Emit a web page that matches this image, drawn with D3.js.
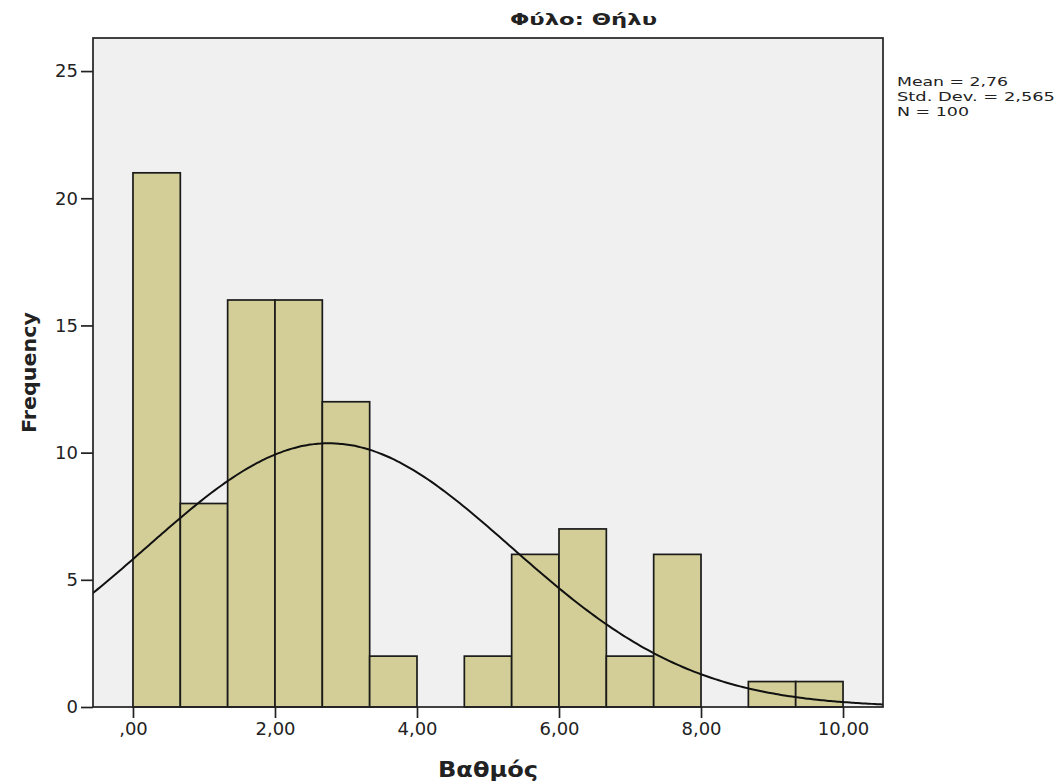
<!DOCTYPE html>
<html>
<head>
<meta charset="utf-8">
<script src="https://cdnjs.cloudflare.com/ajax/libs/d3/7.8.5/d3.min.js"></script>
<style>
  body { margin: 0; background: #fff; }
  text { font-family: "DejaVu Sans", sans-serif; fill: #222; }
</style>
</head>
<body>
<script>
var w = 1059;
var h = 784;

// histogram bins (lower edges) and counts
var binStarts = [0, 0.6667, 1.3333, 2, 2.6667, 3.3333, 4, 4.6667, 5.3333, 6, 6.6667, 7.3333, 8, 8.6667, 9.3333];
var binWidth = 0.6667;
var counts = [21, 8, 16, 16, 12, 2, 0, 2, 6, 7, 2, 6, 0, 1, 1];
var xTicks = [0, 2, 4, 6, 8, 10];
var xTickLabels = [",00", "2,00", "4,00", "6,00", "8,00", "10,00"];
var yTicks = [0, 5, 10, 15, 20, 25];
var statLines = ["Mean = 2,76", "Std. Dev. = 2,565", "N = 100"];
var statWidths = [111, 158, 72];
var mean = 2.76, sd = 2.565, n = 100;

var pLeft = 93, pRight = 883, pTop = 38, pBottom = 707;

var svg = d3.select("body").append("svg")
  .attr("width", w)
  .attr("height", h);

var x = d3.scaleLinear().domain([-0.563, 10.563]).range([pLeft, pRight]);
var y = d3.scaleLinear().domain([0, 26.3]).range([pBottom, pTop]);

svg.append("rect")
  .attr("x", pLeft).attr("y", pTop)
  .attr("width", pRight - pLeft).attr("height", pBottom - pTop)
  .attr("fill", "#f0f0f0");

svg.append("clipPath").attr("id", "plot")
  .append("rect")
  .attr("x", pLeft).attr("y", pTop)
  .attr("width", pRight - pLeft).attr("height", pBottom - pTop);

var bars = counts.map(function(c, i) { return {x0: binStarts[i], c: c}; })
  .filter(function(d) { return d.c > 0; });

svg.selectAll("rect.bar")
  .data(bars)
  .enter()
  .append("rect")
  .attr("class", "bar")
  .attr("x", function(d) { return x(d.x0); })
  .attr("y", function(d) { return y(d.c); })
  .attr("width", function(d) { return x(d.x0 + binWidth) - x(d.x0); })
  .attr("height", function(d) { return y(0) - y(d.c); })
  .attr("fill", "#d3ce97")
  .attr("stroke", "#1a1a1a")
  .attr("stroke-width", 1.7);

// fitted normal curve
var pts = d3.range(-0.6, 10.65, 0.05).map(function(v) {
  var z = (v - mean) / sd;
  return [v, n * binWidth * Math.exp(-0.5 * z * z) / (sd * Math.sqrt(2 * Math.PI))];
});
svg.append("path")
  .datum(pts)
  .attr("clip-path", "url(#plot)")
  .attr("fill", "none")
  .attr("stroke", "#111")
  .attr("stroke-width", 2)
  .attr("d", d3.line()
    .x(function(d) { return x(d[0]); })
    .y(function(d) { return y(d[1]); })
    .curve(d3.curveBasis));

// frame
svg.append("rect")
  .attr("x", pLeft).attr("y", pTop)
  .attr("width", pRight - pLeft).attr("height", pBottom - pTop)
  .attr("fill", "none")
  .attr("stroke", "#222")
  .attr("stroke-width", 1.7);

var xAxis = d3.axisBottom(x)
  .tickValues(xTicks)
  .tickSize(11)
  .tickPadding(4)
  .tickFormat(function(d, i) { return xTickLabels[i]; });
var gx = svg.append("g")
  .attr("transform", "translate(0," + pBottom + ")")
  .call(xAxis);
gx.select(".domain").remove();
gx.selectAll("line").attr("stroke", "#222").attr("stroke-width", 1.7);
gx.selectAll("text").attr("font-size", 18).attr("fill", "#222")
  .style("font-family", "DejaVu Sans");

var yAxis = d3.axisLeft(y)
  .tickValues(yTicks)
  .tickSize(12)
  .tickPadding(3);
var gy = svg.append("g")
  .attr("transform", "translate(" + pLeft + ",0)")
  .call(yAxis);
gy.select(".domain").remove();
gy.selectAll("line").attr("stroke", "#222").attr("stroke-width", 1.7);
gy.selectAll("text").attr("font-size", 18).attr("fill", "#222")
  .style("font-family", "DejaVu Sans");

// title and axis titles
svg.append("text")
  .attr("x", 510).attr("y", 25)
  .attr("font-size", 16.5).attr("font-weight", "bold")
  .attr("textLength", 147).attr("lengthAdjust", "spacingAndGlyphs")
  .text("Φύλο: Θήλυ");

svg.append("text")
  .attr("transform", "translate(36,433) rotate(-90)")
  .attr("font-size", 20).attr("font-weight", "bold")
  .attr("textLength", 121).attr("lengthAdjust", "spacingAndGlyphs")
  .text("Frequency");

svg.append("text")
  .attr("x", 438).attr("y", 777)
  .attr("font-size", 20.5).attr("font-weight", "bold")
  .attr("textLength", 100).attr("lengthAdjust", "spacingAndGlyphs")
  .text("Βαθμός");

svg.selectAll("text.stat")
  .data(statLines)
  .enter()
  .append("text")
  .attr("class", "stat")
  .attr("x", 897)
  .attr("y", function(d, i) { return 86 + i * 15; })
  .attr("font-size", 13)
  .attr("textLength", function(d, i) { return statWidths[i]; })
  .attr("lengthAdjust", "spacingAndGlyphs")
  .text(function(d) { return d; });
</script>
</body>
</html>
